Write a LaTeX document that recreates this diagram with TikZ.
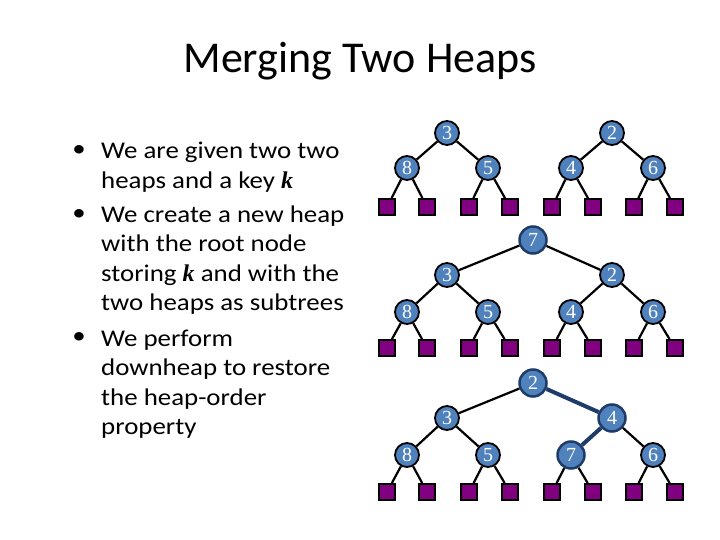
\documentclass[tikz,border=0pt]{standalone}
\usepackage{fontspec}
\setmainfont{Carlito}
\newfontfamily\bodyfont[FakeStretch=1.12]{Carlito}
\newfontfamily\keyfont{Liberation Serif}
\newcommand{\kk}{{\keyfont\bfseries\itshape k}}

\definecolor{heapblue}{RGB}{79,129,189}
\definecolor{heapdark}{RGB}{31,60,105}
\definecolor{leafpurple}{RGB}{128,0,128}

\tikzset{
  key/.style={circle, draw=black, line width=1.8pt, fill=heapblue, minimum size=24pt,
    inner sep=0pt, text=white, font=\keyfont\fontsize{20}{20}\selectfont},
  hotkey/.style={key, draw=heapdark, line width=2.5pt, minimum size=27pt},
  leaf/.style={rectangle, draw=black, line width=1.8pt, fill=leafpurple,
    minimum size=16pt, inner sep=0pt},
  link/.style={line width=2.2pt},
  hotlink/.style={line width=4pt, draw=heapdark},
  bodytext/.style={anchor=base west, align=left, inner sep=0pt,
    font=\bodyfont\fontsize{24}{29.5}\selectfont},
  dot/.style={inner sep=0pt, font=\bodyfont\fontsize{24}{29.5}\selectfont}
}

\begin{document}
\begin{tikzpicture}[x=1pt, y=-1pt]
        \useasboundingbox (0,0) rectangle (720,540);

        % Title
        \node[anchor=base, inner sep=0pt, font=\fontsize{44}{52}\selectfont] (title) at (360,73) {Merging Two Heaps};

        % Bullet list (anchored at the baseline of the last line)
        \node[dot] (d1) at (79,151) {\textbullet};
        \node[bodytext] (t1) at (101,188.5) {We are given two two\\heaps and a key \kk};
        \node[dot] (d2) at (79,215) {\textbullet};
        \node[bodytext] (t2) at (101,310.5) {We create a new heap\\with the root node\\storing \kk{} and with the\\two heaps as subtrees};
        \node[dot] (d3) at (79,338) {\textbullet};
        \node[bodytext] (t3) at (101,434.5) {We perform\\downheap to restore\\the heap-order\\property};

        % Two heaps and the key
        \node[key] (a3) at (447,133) {3};
        \node[key] (a8) at (407,168) {8};
        \node[key] (a5) at (488,168) {5};
        \node[key] (a2) at (612,133) {2};
        \node[key] (a4) at (571,168) {4};
        \node[key] (a6) at (653,168) {6};
        \draw[link] (a3) -- (a8);
        \draw[link] (a3) -- (a5);
        \draw[link] (a2) -- (a4);
        \draw[link] (a2) -- (a6);

        % New heap with root 7
        \node[hotkey] (b7) at (533,240) {7};
        \node[key] (b3) at (447,275) {3};
        \node[key] (b2) at (612,275) {2};
        \node[key] (b8) at (407,312) {8};
        \node[key] (b5) at (488,312) {5};
        \node[key] (b4) at (571,312) {4};
        \node[key] (b6) at (653,312) {6};
        \draw[link] (b7) -- (b3);
        \draw[link] (b7) -- (b2);
        \draw[link] (b3) -- (b8);
        \draw[link] (b3) -- (b5);
        \draw[link] (b2) -- (b4);
        \draw[link] (b2) -- (b6);

        % After downheap
        \node[hotkey] (c2) at (533,383) {2};
        \node[key] (c3) at (447,418) {3};
        \node[hotkey] (c4) at (612,418) {4};
        \node[key] (c8) at (407,455) {8};
        \node[key] (c5) at (488,455) {5};
        \node[hotkey] (c7) at (571,455) {7};
        \node[key] (c6) at (653,455) {6};
        \draw[link] (c2) -- (c3);
        \draw[hotlink] (c2) -- (c4);
        \draw[link] (c3) -- (c8);
        \draw[link] (c3) -- (c5);
        \draw[hotlink] (c4) -- (c7);
        \draw[link] (c4) -- (c6);

        % External leaves
        \foreach \p/\xl/\xr/\yl in {a8/387/427/207, a5/469/510/207, a4/552/593/207, a6/634/675/207,
                                    b8/387/427/348, b5/469/510/348, b4/552/593/348, b6/634/675/348,
                                    c8/387/427/492, c5/469/510/492, c7/552/593/492, c6/634/675/492} {
          \node[leaf] (\p-l) at (\xl,\yl) {};
          \node[leaf] (\p-r) at (\xr,\yl) {};
          \draw[link] (\p) -- (\p-l);
          \draw[link] (\p) -- (\p-r);
        }
\end{tikzpicture}
\end{document}
